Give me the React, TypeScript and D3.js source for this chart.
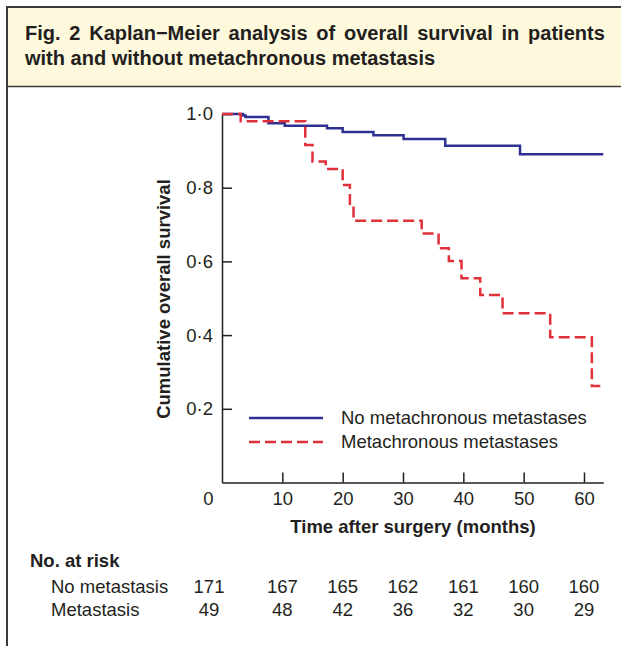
import React, { useEffect, useRef } from 'react';
import * as d3 from 'd3';

// survival steps (time in months, cumulative survival)
const noMetTime = [0, 3.5, 3.9, 7.7, 10.4, 17.4, 20, 25.1, 30.1, 37, 49.4, 63.2];
const noMetSurv = [1, 0.996, 0.992, 0.975, 0.968, 0.961, 0.951, 0.942, 0.932, 0.914, 0.891, 0.891];

const metTime = [0, 3.1, 13.8, 15, 17.2, 20, 21.2, 21.8, 33.1, 35.9, 37.6, 39.7, 42.8, 46.5, 54.4, 61.3, 62.7];
const metSurv = [1, 0.98, 0.916, 0.871, 0.851, 0.807, 0.752, 0.71, 0.676, 0.636, 0.601, 0.554, 0.509, 0.459, 0.394, 0.262, 0.262];

const xTicks = [0, 10, 20, 30, 40, 50, 60];
const yTicks = [0.2, 0.4, 0.6, 0.8, 1.0];

const riskTimes = [0, 10, 20, 30, 40, 50, 60];
const riskNoMet = [171, 167, 165, 162, 161, 160, 160];
const riskMet = [49, 48, 42, 36, 32, 30, 29];

const legendLabels = ['No metachronous metastases', 'Metachronous metastases'];

const FONT = '"Liberation Sans", Arial, Helvetica, sans-serif';
const INK = '#231f20';
const BLUE = '#2e3192';
const RED = '#e0303a';
const FS = '18.5px';

const App = () => {
  const svgRef = useRef<SVGSVGElement>(null);

  useEffect(() => {
    const svg = d3.select(svgRef.current);
    svg.selectAll('*').remove();

    const width = 621;
    const height = 646;
    svg.attr('width', width).attr('height', height);

    // frame + caption box
    svg.append('rect')
      .attr('x', 7).attr('y', 7).attr('width', width - 7).attr('height', 79)
      .attr('fill', '#fef9dd');
    svg.append('line').attr('x1', 7).attr('x2', width).attr('y1', 7).attr('y2', 7)
      .attr('stroke', '#3a3a3a').attr('stroke-width', 2);
    svg.append('line').attr('x1', 7).attr('x2', width).attr('y1', 86.5).attr('y2', 86.5)
      .attr('stroke', '#3a3a3a').attr('stroke-width', 1.5);
    svg.append('line').attr('x1', 7).attr('x2', 7).attr('y1', 6).attr('y2', height)
      .attr('stroke', '#3a3a3a').attr('stroke-width', 2);

    const line1 = svg.append('text')
      .attr('x', 25).attr('y', 40)
      .style('font-family', FONT).style('font-weight', 'bold').style('font-size', '20px')
      .attr('fill', INK)
      .text('Fig. 2 Kaplan\u2212Meier analysis of overall survival in patients');
    // justify first caption line
    const node = line1.node() as SVGTextElement;
    const natural = node.getComputedTextLength();
    line1.style('word-spacing', `${(583 - natural) / 9}px`);

    svg.append('text')
      .attr('x', 25).attr('y', 65)
      .style('font-family', FONT).style('font-weight', 'bold').style('font-size', '20px')
      .attr('fill', INK)
      .text('with and without metachronous metastasis');

    const x = d3.scaleLinear().domain([0, 63.2]).range([222, 603.3]);
    const y = d3.scaleLinear().domain([0, 1]).range([482.5, 114]);

    const fmt = (d: number) => d3.format('.1f')(d).replace('.', '\u00b7');

    const yAxis = svg.append('g')
      .attr('transform', `translate(${x(0)},0)`)
      .call(d3.axisLeft(y).tickValues(yTicks).tickSize(-10).tickSizeOuter(0).tickPadding(9).tickFormat(fmt as any));
    yAxis.select('.domain').attr('stroke', INK).attr('stroke-width', 1.5);
    yAxis.selectAll('.tick line').attr('stroke', INK).attr('stroke-width', 1.5);
    yAxis.selectAll('text').style('font-family', FONT).style('font-size', FS).attr('fill', INK);

    const xAxis = svg.append('g')
      .attr('transform', `translate(0,${y(0)})`)
      .call(d3.axisBottom(x).tickValues(xTicks).tickSize(-10).tickSizeOuter(0).tickPadding(9).tickFormat(d3.format('d') as any));
    xAxis.select('.domain').attr('stroke', INK).attr('stroke-width', 1.5);
    xAxis.selectAll('.tick line').attr('stroke', INK).attr('stroke-width', 1.5);
    xAxis.selectAll('text').style('font-family', FONT).style('font-size', FS).attr('fill', INK);
    xAxis.selectAll('.tick').filter((d: any) => d === 0).select('line').remove();
    xAxis.selectAll('.tick').filter((d: any) => d === 0).select('text').attr('x', -14);

    // axis titles
    svg.append('text')
      .attr('transform', `translate(164, 299) rotate(-90)`)
      .attr('text-anchor', 'middle').attr('dy', '0.35em')
      .style('font-family', FONT).style('font-weight', 'bold').style('font-size', FS)
      .attr('fill', INK)
      .text('Cumulative overall survival');

    svg.append('text')
      .attr('x', 413).attr('y', 533)
      .attr('text-anchor', 'middle')
      .style('font-family', FONT).style('font-weight', 'bold').style('font-size', FS)
      .attr('fill', INK)
      .text('Time after surgery (months)');

    const noMet = noMetTime.map((t, i) => [t, noMetSurv[i]] as [number, number]);
    const met = metTime.map((t, i) => [t, metSurv[i]] as [number, number]);
    const km = d3.line<[number, number]>()
      .x(d => x(d[0]))
      .y(d => y(d[1]))
      .curve(d3.curveStepAfter);

    svg.append('path')
      .datum(noMet)
      .attr('fill', 'none')
      .attr('stroke', BLUE)
      .attr('stroke-width', 2.5)
      .attr('d', km);

    svg.append('path')
      .datum(met)
      .attr('fill', 'none')
      .attr('stroke', RED)
      .attr('stroke-width', 2.5)
      .attr('stroke-dasharray', '11,5')
      .attr('d', km);

    // legend
    const legend = svg.append('g');
    [BLUE, RED].forEach((c, i) => {
      const ly = 418 + i * 24;
      legend.append('line')
        .attr('x1', 249).attr('x2', 323).attr('y1', ly).attr('y2', ly)
        .attr('stroke', c).attr('stroke-width', 2.5)
        .attr('stroke-dasharray', i === 1 ? '11,5' : null);
      legend.append('text')
        .attr('x', 341).attr('y', ly).attr('dy', '0.35em')
        .style('font-family', FONT).style('font-size', FS)
        .attr('fill', INK)
        .text(legendLabels[i]);
    });

    // number at risk table
    svg.append('text')
      .attr('x', 30).attr('y', 567)
      .style('font-family', FONT).style('font-weight', 'bold').style('font-size', FS)
      .attr('fill', INK)
      .text('No. at risk');

    const rows = [
      { label: 'No metastasis', values: riskNoMet, yy: 593 },
      { label: 'Metastasis', values: riskMet, yy: 616 },
    ];
    rows.forEach(r => {
      svg.append('text')
        .attr('x', 51).attr('y', r.yy)
        .style('font-family', FONT).style('font-size', FS)
        .attr('fill', INK)
        .text(r.label);
      svg.selectAll(null)
        .data(r.values)
        .enter()
        .append('text')
        .attr('x', (_, i) => riskTimes[i] === 0 ? x(0) - 13 : x(riskTimes[i]))
        .attr('y', r.yy)
        .attr('text-anchor', 'middle')
        .style('font-family', FONT).style('font-size', FS)
        .attr('fill', INK)
        .text(d => d);
    });
  }, []);

  return (
    <svg
      ref={svgRef}
      style={{ position: 'absolute', left: 0, top: 0, display: 'block', background: '#fff' }}
    />
  );
};

export default App;
